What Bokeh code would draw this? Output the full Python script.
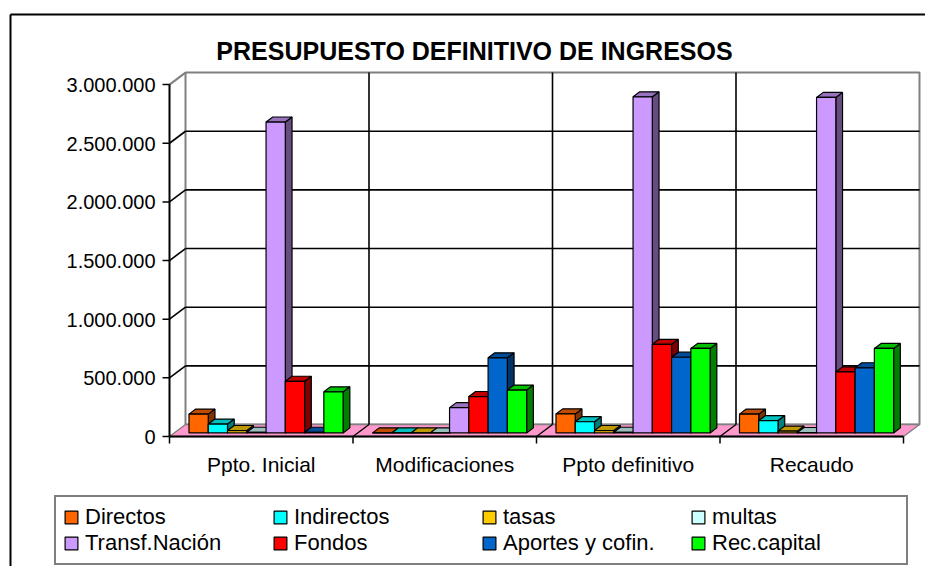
import numpy as np
from bokeh.plotting import figure
from bokeh.models import Range1d, Legend, LegendItem, Label
from bokeh.embed import file_html
from bokeh.resources import INLINE

# ---------------- data ----------------
categories = ["Ppto. Inicial", "Modificaciones", "Ppto definitivo", "Recaudo"]
series_names = ["Directos", "Indirectos", "tasas", "multas",
                "Transf.Nación", "Fondos", "Aportes y cofin.", "Rec.capital"]
directos = [160000, 0, 162000, 160000]
indirectos = [75000, 0, 95000, 105000]
tasas = [20000, 0, 20000, 15000]
multas = [5000, 0, 5000, 3000]
transf_nacion = [2650000, 215000, 2865000, 2860000]
fondos = [440000, 310000, 755000, 520000]
aportes = [5000, 640000, 645000, 555000]
rec_capital = [350000, 365000, 720000, 720000]
series_values = [directos, indirectos, tasas, multas,
                 transf_nacion, fondos, aportes, rec_capital]
colors = ["#FF6600", "#00FFFF", "#FFCC00", "#CCFFFF",
          "#CC99FF", "#FF0000", "#0066CC", "#00FF00"]
y_ticks = [0, 500000, 1000000, 1500000, 2000000, 2500000, 3000000]
y_tick_labels = ["0", "500.000", "1.000.000", "1.500.000",
                 "2.000.000", "2.500.000", "3.000.000"]
title_text = "PRESUPUESTO DEFINITIVO DE INGRESOS"

# ---------------- geometry (style) ----------------
FONT = "Liberation Sans"
W, H = 925, 566
X0, Y0 = 169, 436          # pixel position of the front origin
PX_X = 183.5               # px per category
PX_Y = 117.3e-6            # px per value unit
DX = 16 / PX_X             # depth offset (x)
DY = 12 / PX_Y             # depth offset (y)
Y_MAX = y_ticks[-1]
NCAT = len(categories)
GAP, BW = 0.08, 0.105
F0, F1 = 0.3, 0.72


def dx(px):  # pixel length -> x data length
    return px / PX_X


def dy(px):  # pixel length -> y data length
    return px / PX_Y


def shade(hexcol, f):
    h = hexcol.lstrip("#")
    r, g, b = (int(h[i:i + 2], 16) for i in (0, 2, 4))
    return "#%02x%02x%02x" % (int(r * f), int(g * f), int(b * f))


p = figure(width=W, height=H,
           x_range=Range1d(dx(-X0), dx(W - X0)),
           y_range=Range1d(-dy(H - Y0), dy(Y0)),
           min_border=0, min_border_left=0, min_border_right=0,
           min_border_top=0, min_border_bottom=0,
           x_axis_location=None, y_axis_location=None,
           output_backend="svg", toolbar_location=None,
           background_fill_color="white", border_fill_color="white")
p.outline_line_color = None
p.xgrid.visible = False
p.ygrid.visible = False

# outer chart border (left and top edges visible)
bl, bt = dx(10 - X0), dy(Y0 - 14)
p.segment(x0=[bl, bl], y0=[bt, bt], x1=[bl, dx(W - X0) + 1], y1=[-dy(H), bt],
          line_color="black", line_width=2)

# back wall
p.quad(left=DX, right=NCAT + DX, bottom=DY, top=Y_MAX + DY,
       fill_color="white", line_color="#808080", line_width=2)
# floor
p.patch(x=[0, NCAT, NCAT + DX, DX], y=[0, 0, DY, DY],
        fill_color="#FF99CC", line_color="#808080", line_width=1.5)

grid_vals = np.array(y_ticks[1:-1], dtype=float)
ng = len(grid_vals)
# back wall horizontal gridlines
p.segment(x0=[DX] * ng, y0=grid_vals + DY, x1=[NCAT + DX] * ng, y1=grid_vals + DY,
          line_color="black", line_width=1.6)
# side wall diagonals
p.segment(x0=[0] * ng, y0=grid_vals, x1=[DX] * ng, y1=grid_vals + DY,
          line_color="black", line_width=1.6)
p.segment(x0=[0], y0=[Y_MAX], x1=[DX], y1=[Y_MAX + DY],
          line_color="#808080", line_width=2)
# category boundary lines (back wall + floor)
cb = np.arange(1, NCAT, dtype=float)
p.segment(x0=cb + DX, y0=[DY] * len(cb), x1=cb + DX, y1=[Y_MAX + DY] * len(cb),
          line_color="black", line_width=1.6)
p.segment(x0=cb, y0=[0] * len(cb), x1=cb + DX, y1=[DY] * len(cb),
          line_color="black", line_width=1.4)

# bars (3D columns)
cx = np.arange(NCAT, dtype=float)
fx, fy = F0 * DX, F0 * DY
bx, by = F1 * DX, F1 * DY
legend_items = []
for s, (name, vals, col) in enumerate(zip(series_names, series_values, colors)):
    v = np.array(vals, dtype=float)
    L = cx + GAP + s * BW
    R = L + BW
    side_xs = [[r + fx, r + bx, r + bx, r + fx] for r in R]
    side_ys = [[fy, by, h + by, h + fy] for h in v]
    top_xs = [[l + fx, r + fx, r + bx, l + bx] for l, r in zip(L, R)]
    top_ys = [[h + fy, h + fy, h + by, h + by] for h in v]
    p.patches(side_xs, side_ys, fill_color=shade(col, 0.5),
              line_color="black", line_width=1.2)
    p.patches(top_xs, top_ys, fill_color=shade(col, 0.75),
              line_color="black", line_width=1.2)
    rr = p.quad(left=L + fx, right=R + fx, bottom=fy, top=v + fy,
                fill_color=col, line_color="black", line_width=1.2)
    legend_items.append(LegendItem(label=name, renderers=[rr]))

# y axis (front)
nt = len(y_ticks)
p.segment(x0=[0], y0=[0], x1=[0], y1=[Y_MAX], line_color="black", line_width=2)
p.segment(x0=[-dx(7)] * nt, y0=y_ticks, x1=[0] * nt, y1=y_ticks,
          line_color="black", line_width=1.5)
p.text(x=[-dx(14)] * nt, y=[t - dy(0.5) for t in y_ticks], text=y_tick_labels,
       text_align="right", text_baseline="alphabetic",
       text_font={"value": FONT}, text_font_size={"value": "20px"},
       text_color="black")

# x axis (front)
edges = list(range(NCAT + 1))
p.segment(x0=[0], y0=[0], x1=[NCAT], y1=[0], line_color="black", line_width=2)
p.segment(x0=edges, y0=[0] * len(edges), x1=edges, y1=[-dy(7)] * len(edges),
          line_color="black", line_width=1.5)
p.text(x=[i + 0.5 for i in range(NCAT)], y=[-dy(463.5 - Y0)] * NCAT, text=categories,
       text_align="center", text_baseline="alphabetic",
       text_font={"value": FONT}, text_font_size={"value": "21px"},
       text_color="black")

# title
p.add_layout(Label(x=dx(474 - X0), y=dy(Y0 - 50), text=title_text,
                   text_align="center", text_baseline="alphabetic",
                   text_font=FONT, text_font_size="25px",
                   text_font_style="bold", text_color="black"))

# legend
legend = Legend(items=legend_items, location=(54, 1),
                orientation="horizontal", ncols=4,
                glyph_width=16, glyph_height=16, label_standoff=6,
                label_width=187, label_height=24, spacing=0, padding=7,
                margin=0, border_line_color="black", border_line_width=2,
                background_fill_color="white", background_fill_alpha=1,
                label_text_font=FONT, label_text_font_size="22px",
                label_text_color="black")
p.add_layout(legend)

open("out.html", "w").write(file_html(p, INLINE))
